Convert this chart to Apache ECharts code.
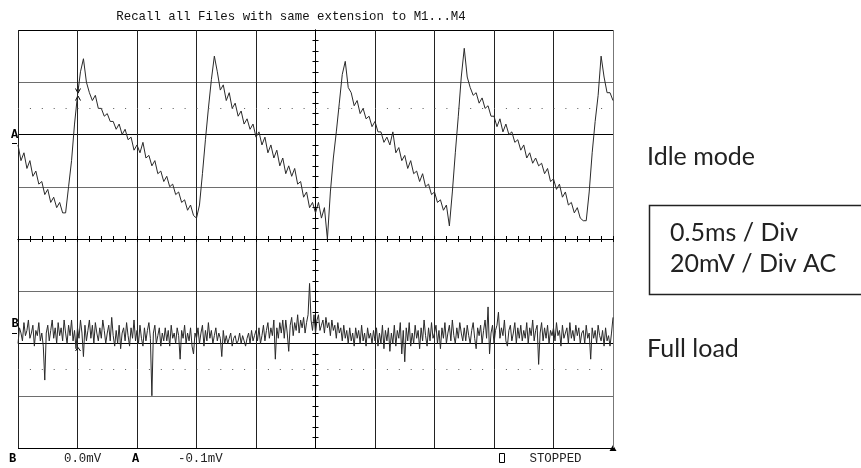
<!DOCTYPE html>
<html>
<head>
<meta charset="utf-8">
<script src="https://cdn.jsdelivr.net/npm/echarts@6/dist/echarts.min.js"></script>
<style>
html,body{margin:0;padding:0;background:#fff;}
#main{width:861px;height:468px;}
</style>
</head>
<body>
<div id="main"></div>
<script>
// 示波器截图: A 通道 = Idle mode, B 通道 = Full load
var T0 = -2.5;     // 屏幕左边的时间 (ms)
var DT_A = 0.025;  // ms / 采样点
var DT_B = 0.0125;

// A 通道 (mV)
var traceA = [
    36,30,33,27,30,24,26,21,22,17,19,14,16,12,14,10,10,
    20,30,44,55,64,69,60,
    56,53,55,50,50,47,48,45,45,42,44,40,42,38,39,34,36,33,37,31,32,28,30,25,26,22,24,20,21,17,18,14,15,11,13,9,8,
    13,25,38,50,61,70,64,
    57,59,53,56,50,52,47,49,44,46,42,44,39,41,36,39,33,36,31,34,28,31,25,28,24,27,21,22,16,18,12,14,
    10,14,8,12,0,18,31,41,52,63,68,58,
    56,51,53,48,50,46,47,43,45,41,41,37,39,36,41,33,35,30,32,27,30,25,26,22,25,20,21,17,18,14,15,11,13,5,
    18,33,47,62,73,62,
    58,55,56,52,54,50,51,47,47,43,46,41,44,40,41,37,38,34,36,31,33,29,31,28,29,25,27,22,23,19,21,16,18,13,14,10,12,8,7,
    7,18,33,45,55,70,62,56,56,53
];

// B 通道 (mV)
var traceB = [
    -40,-34,-36,-39,-32,-37,-35,-31,-38,-36,-33,-41,-35,-37,-32,-39,-36,-41,-54,-36,
    -33,-39,-35,-31,-38,-34,-40,-32,-37,-34,-39,-31,-36,-40,-33,-37,-31,-39,-35,-42,
    -34,-38,-31,-36,-45,-33,-39,-35,-31,-38,-33,-40,-32,-36,-39,-34,-38,-31,-35,-40,
    -36,-33,-39,-30,-37,-41,-35,-40,-33,-42,-36,-34,-39,-32,-37,-41,-34,-38,-31,-39,
    -35,-40,-33,-38,-41,-34,-39,-35,-32,-38,-60,-36,-33,-40,-37,-34,-41,-36,-39,-34,
    -39,-35,-41,-33,-38,-36,-40,-34,-37,-46,-35,-38,-33,-40,-36,-39,-34,-41,-44,-36,
    -38,-34,-40,-36,-33,-41,-35,-39,-32,-38,-35,-40,-37,-34,-39,-36,-38,-45,-35,-40,
    -37,-40,-38,-36,-41,-38,-37,-40,-39,-36,-40,-37,-39,-41,-38,-36,-40,-35,-39,-37,
    -35,-39,-34,-40,-37,-33,-39,-35,-32,-38,-34,-37,-31,-46,-34,-38,-32,-36,-31,-38,
    -31,-36,-43,-33,-30,-37,-32,-35,-29,-36,-31,-34,-30,-36,-32,-29,-17,-31,-35,-29,
    -36,-31,-29,-35,-33,-31,-36,-30,-34,-32,-37,-31,-35,-33,-38,-32,-36,-34,-39,-33,
    -38,-35,-40,-34,-39,-36,-41,-34,-38,-35,-40,-33,-39,-36,-41,-34,-38,-36,-40,-35,
    -39,-34,-41,-36,-40,-33,-42,-35,-39,-34,-43,-36,-40,-33,-41,-35,-38,-32,-44,-35,
    -47,-34,-39,-32,-41,-36,-40,-33,-38,-35,-42,-34,-39,-31,-37,-41,-34,-39,-32,-38,
    -36,-33,-40,-35,-42,-34,-38,-32,-40,-36,-33,-39,-31,-37,-40,-34,-38,-32,-36,-39,
    -34,-39,-33,-37,-40,-35,-32,-38,-42,-34,-37,-33,-40,-35,-31,-38,-26,-44,-36,-33,
    -40,-35,-33,-28,-38,-34,-37,-31,-39,-41,-35,-33,-39,-36,-32,-40,-34,-38,-33,-39,
    -35,-38,-32,-40,-34,-37,-31,-39,-35,-33,-48,-36,-32,-39,-34,-38,-33,-40,-35,-37,
    -34,-39,-32,-37,-35,-41,-33,-38,-36,-34,-40,-32,-38,-35,-39,-33,-37,-34,-40,-36,
    -35,-40,-33,-38,-36,-46,-34,-38,-35,-40,-33,-37,-39,-35,-41,-34,-39,-37,-41,-36,
    -30
];

var dotLevels = [50, -50];   // 点线
var titleText = 'Recall all Files with same extension to M1...M4';
var bottomLabels = ['0.0mV', '-0.1mV', 'STOPPED'];
var noteLines = ['Idle mode', '0.5ms / Div', '20mV / Div AC', 'Full load'];

function toPairs(arr, dt){
    var out = [];
    for (var i = 0; i < arr.length; i++) {
        out.push([+(T0 + i * dt).toFixed(4), arr[i]]);
    }
    return out;
}

var mono = '"Liberation Mono", "DejaVu Sans Mono", monospace';
var sans = 'Lato, "Noto Sans", sans-serif';

var vColors = ['#222','#222','#222','#222','#222','#222','#222','#222','#222','#222','#777'];

var tickCfg = {show: true, length: 3, lineStyle: {color: '#000', width: 1}};
var minorCfg = {show: true, splitNumber: 5, length: 3, lineStyle: {color: '#000', width: 1}};

var myChart = echarts.init(document.getElementById('main'));
var option = {
    animation: false,
    backgroundColor: '#fff',
    grid: {left: 18, right: 248, top: 30, bottom: 20, show: false},
    xAxis: [{
        type: 'value', min: -2.5, max: 2.5, interval: 0.5,
        axisLine: {show: true, onZero: true, lineStyle: {color: '#000'}},
        axisTick: tickCfg, minorTick: minorCfg,
        axisLabel: {show: false},
        splitLine: {show: true, lineStyle: {color: vColors, width: 1}}
    }, {
        type: 'value', position: 'top', min: -2.5, max: 2.5, interval: 0.5,
        axisLine: {show: true, onZero: true, lineStyle: {color: '#000'}},
        axisTick: tickCfg, minorTick: minorCfg,
        axisLabel: {show: false},
        splitLine: {show: false}
    }],
    yAxis: [{
        type: 'value', min: -80, max: 80, interval: 20,
        axisLine: {show: true, onZero: true, lineStyle: {color: '#000'}},
        axisTick: tickCfg, minorTick: minorCfg,
        axisLabel: {show: false},
        splitLine: {show: true, lineStyle: {color: ['#000', '#6e6e6e'], width: 1}}
    }, {
        type: 'value', position: 'right', min: -80, max: 80, interval: 20,
        axisLine: {show: true, onZero: true, lineStyle: {color: '#000'}},
        axisTick: tickCfg, minorTick: minorCfg,
        axisLabel: {show: false},
        splitLine: {show: false}
    }],
    series: [{
        name: 'A', type: 'line', xAxisIndex: 0, yAxisIndex: 0,
        data: toPairs(traceA, DT_A),
        showSymbol: false, symbol: 'none',
        lineStyle: {color: '#2a2a2a', width: 1},
        markLine: {
            silent: true, symbol: 'none', label: {show: false},
            lineStyle: {color: '#555', width: 1, type: [1, 10.9]},
            data: dotLevels.map(function(v){ return {yAxis: v}; })
        }
    }, {
        name: 'B', type: 'line', xAxisIndex: 0, yAxisIndex: 0,
        data: toPairs(traceB, DT_B),
        showSymbol: false, symbol: 'none',
        lineStyle: {color: '#2a2a2a', width: 1}
    }],
    graphic: [
        {type: 'text', x: 291, y: 17, style: {text: titleText, font: '12.4px ' + mono, fill: '#111', align: 'center', verticalAlign: 'middle'}},
        // 通道标记
        {type: 'text', x: 14.5, y: 134.5, style: {text: 'A', font: 'bold 12px ' + mono, fill: '#000', align: 'center', verticalAlign: 'middle'}},
        {type: 'line', shape: {x1: 12, y1: 143.5, x2: 17, y2: 143.5}, style: {stroke: '#000', lineWidth: 1}},
        {type: 'text', x: 15, y: 323.5, style: {text: 'B', font: 'bold 12px ' + mono, fill: '#000', align: 'center', verticalAlign: 'middle'}},
        {type: 'line', shape: {x1: 12, y1: 333.5, x2: 17, y2: 333.5}, style: {stroke: '#000', lineWidth: 1}},
        // 触发标记
        {type: 'polyline', shape: {points: [[75.5, 88.5], [78, 93], [80.5, 88.5]]}, style: {stroke: '#000', lineWidth: 1, fill: 'none'}},
        {type: 'line', shape: {x1: 78, y1: 86, x2: 78, y2: 93}, style: {stroke: '#000', lineWidth: 1}},
        {type: 'polyline', shape: {points: [[75.5, 100.5], [78, 96], [80.5, 100.5]]}, style: {stroke: '#000', lineWidth: 1, fill: 'none'}},
        {type: 'polyline', shape: {points: [[75.5, 351], [78, 347.5], [80.5, 351]]}, style: {stroke: '#000', lineWidth: 1, fill: 'none'}},
        // 底部状态栏
        {type: 'text', x: 12.5, y: 459, style: {text: 'B', font: 'bold 12px ' + mono, fill: '#000', align: 'center', verticalAlign: 'middle'}},
        {type: 'text', x: 64, y: 459, style: {text: bottomLabels[0], font: '12.4px ' + mono, fill: '#222', verticalAlign: 'middle'}},
        {type: 'text', x: 135.5, y: 459, style: {text: 'A', font: 'bold 12px ' + mono, fill: '#000', align: 'center', verticalAlign: 'middle'}},
        {type: 'text', x: 178, y: 459, style: {text: bottomLabels[1], font: '12.4px ' + mono, fill: '#222', verticalAlign: 'middle'}},
        {type: 'rect', shape: {x: 499.5, y: 453.5, width: 5, height: 9}, style: {fill: 'none', stroke: '#000', lineWidth: 1}},
        {type: 'text', x: 529.5, y: 459, style: {text: bottomLabels[2], font: '12.4px ' + mono, fill: '#222', verticalAlign: 'middle'}},
        {type: 'polygon', shape: {points: [[609.5, 451], [616.5, 451], [613, 445]]}, style: {fill: '#000'}},
        // 右边说明
        {type: 'text', x: 647, y: 157, style: {text: noteLines[0], font: '25px ' + sans, fill: '#222', verticalAlign: 'middle'}},
        {type: 'rect', shape: {x: 649.5, y: 205.5, width: 230, height: 89}, style: {fill: 'none', stroke: '#222', lineWidth: 1.5}},
        {type: 'text', x: 670, y: 233, style: {text: noteLines[1], font: '25px ' + sans, fill: '#222', verticalAlign: 'middle'}},
        {type: 'text', x: 670, y: 264, style: {text: noteLines[2], font: '25px ' + sans, fill: '#222', verticalAlign: 'middle'}},
        {type: 'text', x: 647, y: 349, style: {text: noteLines[3], font: '25px ' + sans, fill: '#222', verticalAlign: 'middle'}}
    ]
};
myChart.setOption(option);
</script>
</body>
</html>
